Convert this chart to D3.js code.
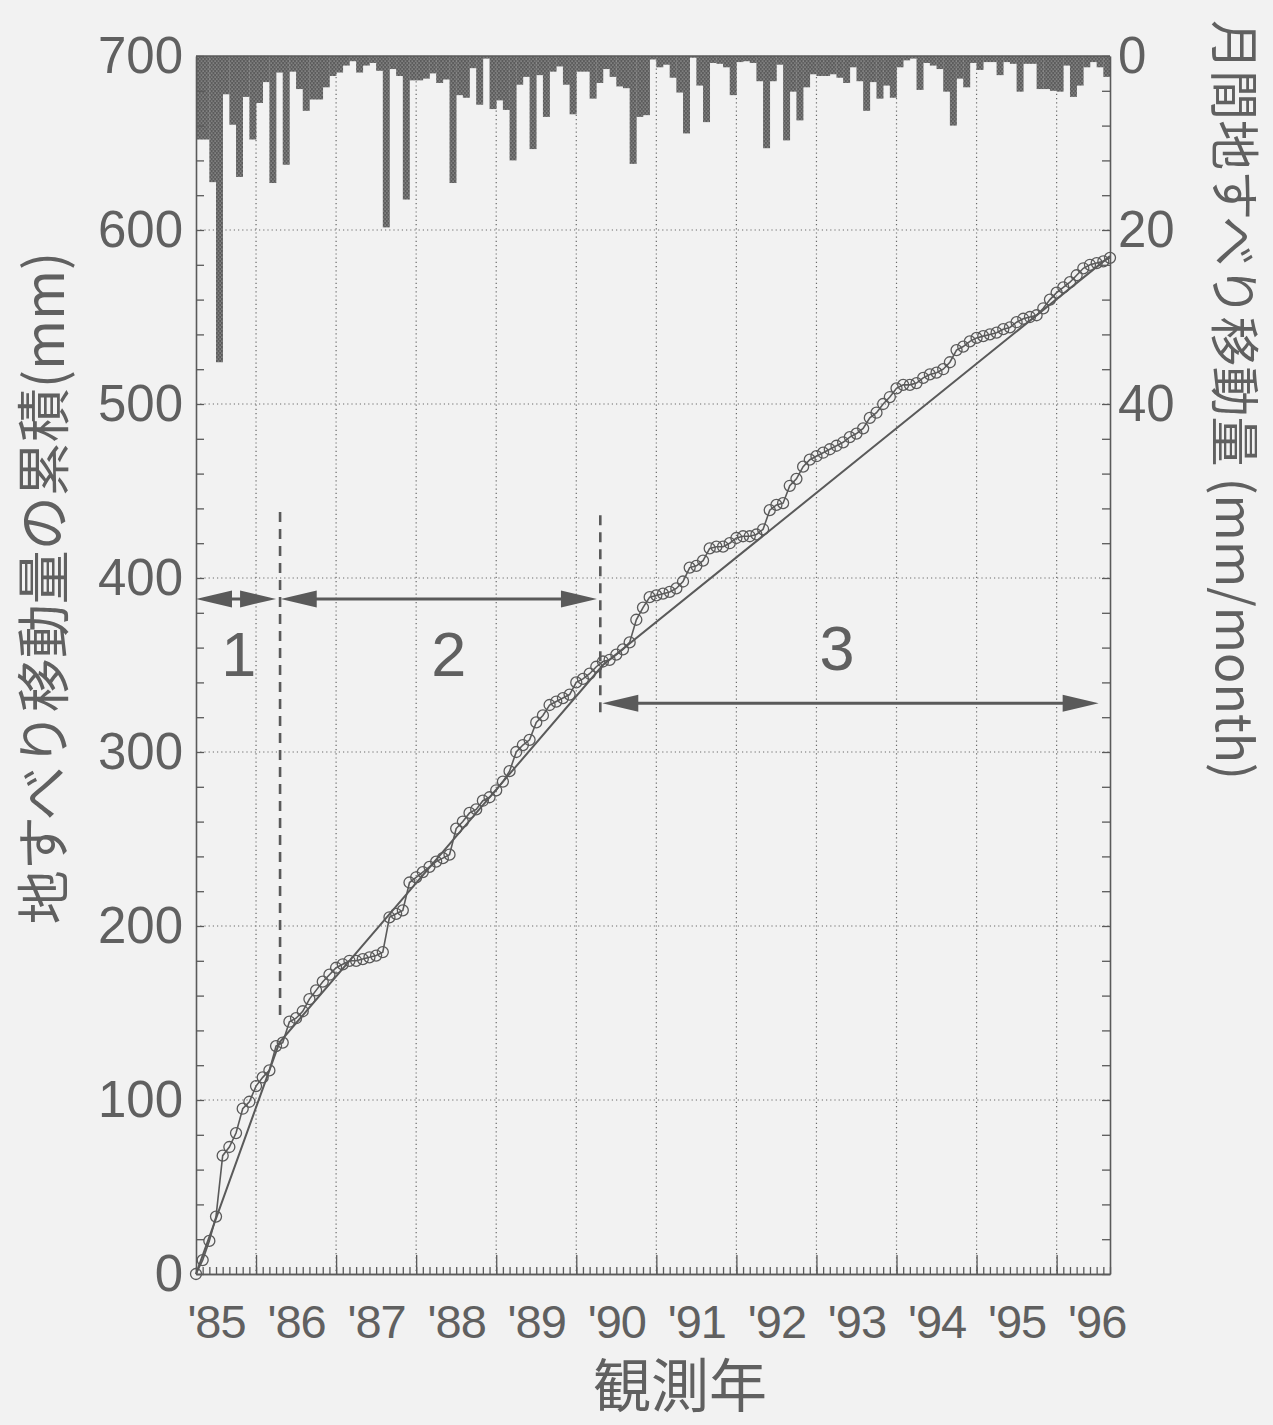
<!DOCTYPE html>
<html><head><meta charset="utf-8">
<script src="https://cdn.jsdelivr.net/npm/d3@7"></script>
<style>
html,body{margin:0;padding:0;background:#f2f2f2;}
svg{display:block;}
</style></head><body>
<svg id="chart" width="1273" height="1425"></svg>
<script>
// ---------- data (months counted from April 1985) ----------
const cumulative = [0,8,19,33,68,73,81,95,99,108,113,117,131,133,145,147,151,158,163,168,
  172,176,178,180,180,181,182,183,185,205,207,209,225,228,231,234,237,239,241,256,
  260,265,267,272,274,278,283,289,300,304,307,317,321,327,329,331,333,340,342,345,
  349,352,353,356,359,363,376,383,389,390,391,392,394,398,406,407,410,417,418,418,
  420,423,424,424,425,428,439,442,443,453,457,464,468,470,472,474,476,478,481,483,
  486,492,495,500,504,509,511,511,512,515,517,518,520,524,531,533,536,538,539,540,
  541,543,544,547,549,550,551,555,560,564,567,570,574,578,580,581,582,584];
const monthly = [9.6,9.6,14.5,35.2,4.4,7.9,13.9,4.7,9.6,5.4,3.0,14.6,1.9,12.5,1.8,3.8,6.3,5.0,5.0,3.6,
  2.3,1.9,1.1,0.6,1.9,1.1,0.8,1.7,19.7,1.5,2.3,16.5,2.8,2.8,2.6,2.0,3.1,2.7,14.6,4.5,
  4.8,1.4,5.6,0.3,6.1,5.1,6.2,12.0,3.3,2.4,10.7,2.2,7.0,1.8,1.2,3.3,6.7,1.8,1.8,4.9,
  3.1,1.5,2.4,3.5,3.7,12.4,7.0,6.8,0.4,1.3,1.0,2.5,4.2,8.9,0.2,3.4,7.6,0.8,0.9,1.3,
  4.5,0.7,0.6,0.8,2.9,10.6,2.9,1.0,9.7,4.1,7.4,3.6,2.1,2.3,2.3,2.1,2.5,3.1,1.3,2.9,
  6.3,3.0,4.9,3.4,4.8,1.3,0.5,0.3,3.9,0.8,1.1,1.5,4.1,8.0,2.6,3.6,0.8,1.6,0.7,0.7,
  2.2,0.7,0.9,4.1,0.9,0.9,3.8,3.8,4.0,4.1,1.1,4.7,3.4,1.3,0.7,1.3,2.4];
const trendMonths = [0, 12.5, 61, 137];
const trendValues = [0, 133, 350, 585];
const years = [1985,1986,1987,1988,1989,1990,1991,1992,1993,1994,1995,1996];
const yearLabels = ["'85","'86","'87","'88","'89","'90","'91","'92","'93","'94","'95","'96"];
const leftTicks = [0,100,200,300,400,500,600,700];
const rightTicks = [0,20,40];
const stageLabels = ["1","2","3"];
const stageStart = [0, 12.7, 60.9];
const stageEnd = [12.0, 60.1, 135.3];
const stageArrowMM = [388, 388, 328];
const stageLabelMonth = [6.4, 37.9, 96.1];
const stageLabelMM = [357, 357, 360];
const breakMonths = [12.6, 60.6];
const breakTopMM = [438, 436];
const breakBottomMM = [146, 320];

// ---------- layout ----------
const INK = "#5a5a5a", TXT = "#606060";
const L = 196, R = 1110, T = 56, B = 1274;
const svg = d3.select("#chart");
const monthOf = y => (y - 1985) * 12 - 3;
const x = d3.scaleLinear().domain([0, 137]).range([L, R]);
const yL = d3.scaleLinear().domain([0, 700]).range([B, T]);
const yR = d3.scaleLinear().domain([0, 140]).range([T, B]);
const NUMFONT = "'Liberation Sans', Arial, Helvetica, sans-serif";
const JPFONT = "'Noto Sans CJK JP', 'Noto Sans', sans-serif";

svg.append("rect").attr("width",1273).attr("height",1425).attr("fill","#f2f2f2");

// pattern for bars
const defs = svg.append("defs");
const pat = defs.append("pattern").attr("id","dots").attr("patternUnits","userSpaceOnUse")
  .attr("width",3.4).attr("height",4);
pat.append("rect").attr("width",3.4).attr("height",4).attr("fill","#5c5c5c");
pat.append("circle").attr("cx",0.9).attr("cy",1).attr("r",0.6).attr("fill","#cfcfcf");
pat.append("circle").attr("cx",2.6).attr("cy",3).attr("r",0.6).attr("fill","#cfcfcf");

// grid
const grid = svg.append("g").attr("stroke","#6a6a6a").attr("stroke-width",1.2)
  .attr("stroke-dasharray","1.2,3");
grid.selectAll("line.h").data(leftTicks.filter(d => d > 0 && d < 700)).join("line")
  .attr("x1",L).attr("x2",R).attr("y1",d=>yL(d)).attr("y2",d=>yL(d));
grid.selectAll("line.v").data(years.slice(1)).join("line")
  .attr("x1",d=>x(monthOf(d))).attr("x2",d=>x(monthOf(d))).attr("y1",T).attr("y2",B);

// monthly bars
svg.append("g").selectAll("rect").data(monthly).join("rect")
  .attr("x",(d,i)=>x(i)).attr("width",(d,i)=>x(i+1)-x(i)+0.3)
  .attr("y",yR(0)).attr("height",d=>yR(d)-yR(0)).attr("fill","url(#dots)");

// axes
function styleAxis(g){ g.selectAll("path.domain").attr("stroke",INK).attr("stroke-width",1.6);
  g.selectAll(".tick line").attr("stroke",INK).attr("stroke-width",1.3); }
const gBm = svg.append("g").attr("transform",`translate(0,${B})`)
  .call(d3.axisBottom(x).tickValues(d3.range(0,138)).tickSize(-7).tickSizeOuter(0).tickFormat(""));
styleAxis(gBm);
const gBM = svg.append("g").attr("transform",`translate(0,${B})`)
  .call(d3.axisBottom(x).tickValues(years.slice(1).map(monthOf)).tickSize(-19).tickSizeOuter(0).tickFormat(""));
styleAxis(gBM);
const gBl = svg.append("g").attr("transform",`translate(0,${B})`)
  .call(d3.axisBottom(x).tickValues(years.map(y=>monthOf(y)+6)).tickSize(0).tickPadding(31)
  .tickFormat((d,i)=>yearLabels[i]));
gBl.select("path.domain").remove();
gBl.selectAll("text").attr("font-family",NUMFONT).attr("font-size",47).attr("fill",TXT)
  .attr("letter-spacing","-1");

const gLm = svg.append("g").attr("transform",`translate(${L},0)`)
  .call(d3.axisLeft(yL).tickValues(d3.range(0,701,20)).tickSize(-8).tickSizeOuter(0).tickFormat(""));
styleAxis(gLm);
const gLl = svg.append("g").attr("transform",`translate(${L},0)`)
  .call(d3.axisLeft(yL).tickValues(leftTicks).tickSize(0).tickPadding(13));
gLl.select("path.domain").remove();
gLl.selectAll("text").attr("font-family",NUMFONT).attr("font-size",51).attr("fill",TXT);

const gRm = svg.append("g").attr("transform",`translate(${R},0)`)
  .call(d3.axisRight(yR).tickValues(d3.range(0,141,4)).tickSize(-8).tickSizeOuter(0).tickFormat(""));
styleAxis(gRm);
const gRl = svg.append("g").attr("transform",`translate(${R},0)`)
  .call(d3.axisRight(yR).tickValues(rightTicks).tickSize(0).tickPadding(8));
gRl.select("path.domain").remove();
gRl.selectAll("text").attr("font-family",NUMFONT).attr("font-size",51).attr("fill",TXT);

// top border
svg.append("line").attr("x1",L).attr("x2",R).attr("y1",T).attr("y2",T)
  .attr("stroke",INK).attr("stroke-width",1.6);

// trend line
svg.append("path").datum(trendMonths.map((m,i)=>[m,trendValues[i]]))
  .attr("d",d3.line().x(d=>x(d[0])).y(d=>yL(d[1])))
  .attr("fill","none").attr("stroke",INK).attr("stroke-width",2);

// cumulative line + circles
svg.append("path").datum(cumulative)
  .attr("d",d3.line().x((d,i)=>x(i)).y(d=>yL(d)))
  .attr("fill","none").attr("stroke",INK).attr("stroke-width",1.6);
svg.append("g").selectAll("circle").data(cumulative).join("circle")
  .attr("cx",(d,i)=>x(i)).attr("cy",d=>yL(d)).attr("r",5.5)
  .attr("fill","none").attr("stroke",INK).attr("stroke-width",1.3);

// stage break dashed lines
breakMonths.forEach((m,i)=>{
  svg.append("line").attr("x1",x(m)).attr("x2",x(m)).attr("y1",yL(breakTopMM[i])).attr("y2",yL(breakBottomMM[i]))
    .attr("stroke",INK).attr("stroke-width",2.6).attr("stroke-dasharray","10,7");
});

// stage arrows
function head(tip, y, dir){
  const len = 36, hh = 8.5;
  return `M${tip},${y}L${tip-dir*len},${y-hh}L${tip-dir*len},${y+hh}Z`;
}
stageLabels.forEach((lab,i)=>{
  const x0 = x(stageStart[i]), x1 = x(stageEnd[i]), yy = yL(stageArrowMM[i]);
  svg.append("line").attr("x1",x0+20).attr("x2",x1-20).attr("y1",yy).attr("y2",yy)
    .attr("stroke",INK).attr("stroke-width",3);
  svg.append("path").attr("d",head(x0,yy,-1)+head(x1,yy,1)).attr("fill",INK);
  svg.append("text").attr("x",x(stageLabelMonth[i])).attr("y",yL(stageLabelMM[i]))
    .attr("dy","0.36em").attr("text-anchor","middle")
    .attr("font-family",NUMFONT).attr("font-size",63).attr("fill",TXT).text(lab);
});

// titles
svg.append("text").attr("transform","translate(40,588) rotate(-90)")
  .attr("text-anchor","middle").attr("dominant-baseline","central")
  .attr("font-family",JPFONT).attr("font-size",54).attr("fill",TXT)
  .text("地すべり移動量の累積(mm)");
svg.append("text").attr("transform","translate(1238,400) rotate(90)")
  .attr("text-anchor","middle").attr("dominant-baseline","central")
  .attr("font-family",JPFONT).attr("font-size",50).attr("fill",TXT)
  .text("月間地すべり移動量 (mm/month)");
svg.append("text").attr("x",680).attr("y",1382)
  .attr("text-anchor","middle").attr("dominant-baseline","central")
  .attr("font-family",JPFONT).attr("font-size",58).attr("fill",TXT)
  .text("観測年");
</script>
</body></html>
